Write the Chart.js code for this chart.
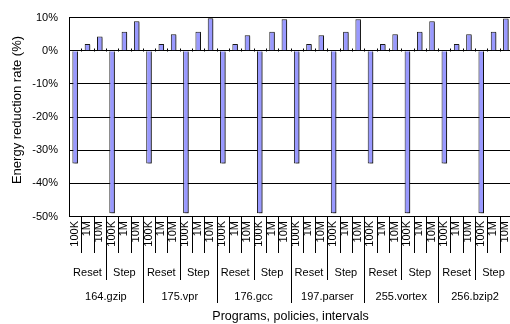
<!DOCTYPE html>
<html>
<head>
<meta charset="utf-8">
<script src="https://cdn.jsdelivr.net/npm/chart.js@4.4.1/dist/chart.umd.min.js"></script>
<style>
html,body{margin:0;padding:0;background:#fff;overflow:hidden;}
#wrap{position:relative;width:512px;height:324px;}
</style>
</head>
<body>
<div id="wrap"><canvas id="c" width="512" height="324"></canvas></div>
<script>
// ---- data ----
const programs = ['164.gzip', '175.vpr', '176.gcc', '197.parser', '255.vortex', '256.bzip2'];
const policies = ['Reset', 'Step'];
const intervals = ['100K', '1M', '10M'];
const yTicks = [10, 0, -10, -20, -30, -40, -50];
// values per program: Reset(100K,1M,10M), Step(100K,1M,10M) in %
const gzip   = [-34, 2, 4.3, -49, 5.7, 8.9];
const vpr    = [-34, 2, 5.0, -49, 5.7, 9.8];
const gcc    = [-34, 2, 4.7, -49, 5.7, 9.5];
const parser = [-34, 2, 4.7, -49, 5.7, 9.5];
const vortex = [-34, 2, 5.0, -49, 5.7, 8.9];
const bzip2  = [-34, 2, 5.0, -49, 5.7, 9.7];

const labels = [];
programs.forEach(p => policies.forEach(po => intervals.forEach(iv => labels.push(p + '|' + po + '|' + iv))));
const values = [].concat(gzip, vpr, gcc, parser, vortex, bzip2);

const FONT = '"Liberation Sans", Arial, sans-serif';

const multiAxis = {
  id: 'multiAxis',
  beforeDatasetsDraw(chart) {
    const ctx = chart.ctx;
    ctx.save();
    ctx.shadowColor = 'rgba(0,0,0,0.45)';
    ctx.shadowOffsetX = 2;
    ctx.shadowOffsetY = 1;
    ctx.shadowBlur = 0;
  },
  afterDatasetsDraw(chart) {
    chart.ctx.restore();
  },
  afterDraw(chart) {
    const ctx = chart.ctx;
    const xs = chart.scales.x, ys = chart.scales.y, area = chart.chartArea;
    const n = labels.length;
    const y0 = Math.round(ys.getPixelForValue(0)) + 0.5;
    ctx.save();
    ctx.strokeStyle = '#000';
    ctx.lineWidth = 1;
    // small tick marks on zero line
    ctx.beginPath();
    for (let i = 0; i <= n; i++) {
      const x = Math.round(xs.getPixelForValue(i - 0.5)) + 0.5;
      ctx.moveTo(x, y0 - 3);
      ctx.lineTo(x, y0);
    }
    ctx.stroke();
    // separators in the label area
    const bottom = Math.round(area.bottom);
    ctx.beginPath();
    for (let i = 1; i < n; i++) {
      const x = Math.round(xs.getPixelForValue(i - 0.5)) + 0.5;
      let end = 253;
      if (i % 6 === 0) end = 303; else if (i % 3 === 0) end = 280;
      ctx.moveTo(x, bottom);
      ctx.lineTo(x, end);
    }
    ctx.stroke();
    ctx.fillStyle = '#000';
    ctx.font = '11px ' + FONT;
    // interval labels (rotated)
    for (let i = 0; i < n; i++) {
      const x = xs.getPixelForValue(i) - 0.5;
      ctx.save();
      ctx.translate(x, 221);
      ctx.rotate(-Math.PI / 2);
      ctx.textAlign = 'right';
      ctx.textBaseline = 'middle';
      ctx.fillText(intervals[i % 3], 0, 0);
      ctx.restore();
    }
    // policy labels
    ctx.textAlign = 'center';
    ctx.textBaseline = 'middle';
    for (let k = 0; k < programs.length * policies.length; k++) {
      const x = xs.getPixelForValue(k * 3 + 1);
      ctx.fillText(policies[k % 2], x, 272.5);
    }
    // program labels
    programs.forEach((p, k) => {
      const x = xs.getPixelForValue(k * 6 + 2.5);
      ctx.fillText(p, x, 296.5);
    });
    // axis titles
    ctx.font = '12.5px ' + FONT;
    ctx.fillText('Programs, policies, intervals', (area.left + area.right) / 2, 316.5);
    ctx.font = '13px ' + FONT;
    ctx.save();
    ctx.translate(17, 110);
    ctx.rotate(-Math.PI / 2);
    ctx.fillText('Energy reduction rate (%)', 0, 0);
    ctx.restore();
    ctx.restore();
  }
};

new Chart(document.getElementById('c'), {
  type: 'bar',
  data: {
    labels: labels,
    datasets: [{
      data: values,
      backgroundColor: '#9999FF',
      borderColor: '#1a1a1a',
      borderWidth: 1,
      barPercentage: 0.45,
      categoryPercentage: 1.0
    }]
  },
  options: {
    responsive: false,
    animation: false,
    devicePixelRatio: 1,
    layout: { padding: { left: 0, right: 0, top: 16.5, bottom: 107.5 } },
    plugins: { legend: { display: false }, tooltip: { enabled: false } },
    scales: {
      x: {
        display: false,
        offset: true
      },
      y: {
        min: -50,
        max: 10,
        afterBuildTicks(scale) { scale.ticks = yTicks.map(v => ({ value: v })); },
        afterFit(scale) { scale.width = 69; },
        ticks: {
          stepSize: 10,
          padding: 11,
          color: '#000',
          font: { family: FONT, size: 11 },
          callback: v => v + '%'
        },
        grid: { color: '#000', lineWidth: 1, drawTicks: false },
        border: { display: true, color: '#000', width: 1 }
      }
    }
  },
  plugins: [multiAxis]
});
</script>
</body>
</html>
